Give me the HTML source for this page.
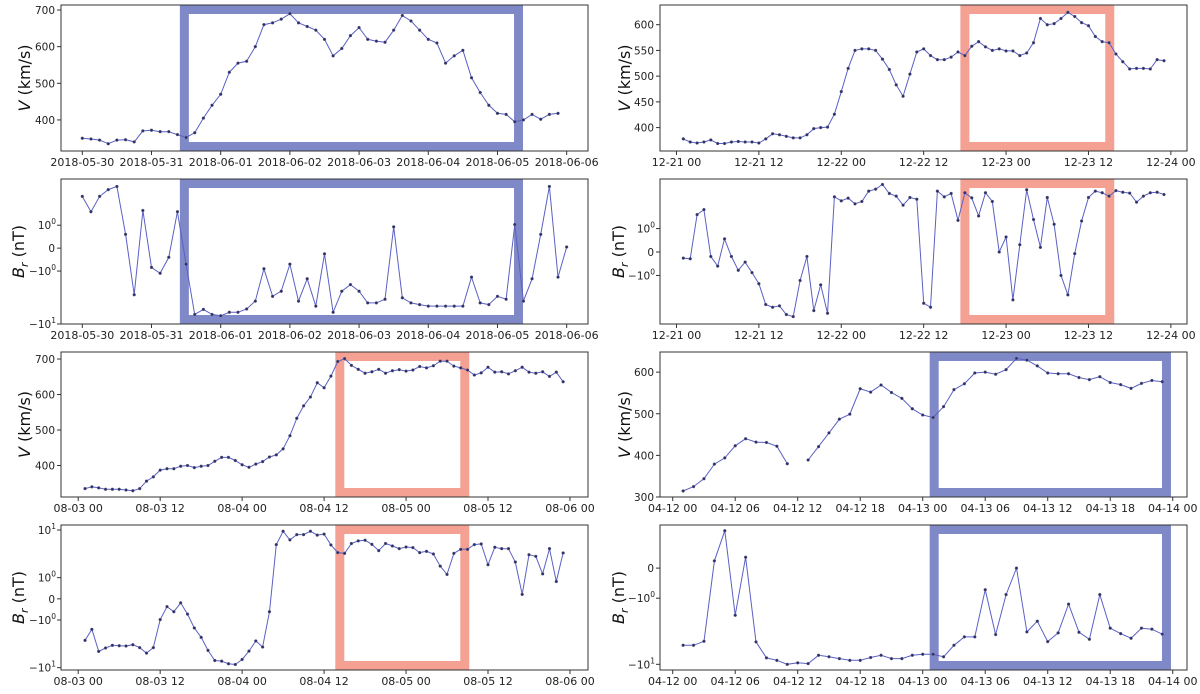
<!DOCTYPE html>
<html><head><meta charset="utf-8"><style>
html,body{margin:0;padding:0;background:#fff;}
svg{display:block;font-family:"DejaVu Sans","Liberation Sans",sans-serif;}
</style></head><body>
<svg id="fig" width="1200" height="694" viewBox="0 0 1200 694" xmlns="http://www.w3.org/2000/svg"></svg>
<script>
// ---- data ----
const v1Values=[350,348,345,335,345,346,340,370, 372,368,368,360,352,365,405,440, 470,530,555,560,600,660,665,675, 690,665,655,645,620,575,595,630, 652,620,615,612,645,685,670,645, 620,610,555,575,590,515,475,440, 418,415,395,400,415,402,415,418];
const br1Values=[3.5,1.8,3.5,4.7,5.4,0.6,-2.8,1.9, -0.84,-1.1,-0.4,1.8,-0.7,-6.6,-5.3,-6.6, -7,-6,-6,-5.2,-3.7,-0.9,-3,-2.4, -0.7,-3.7,-1.4,-4.6,-0.25,-6,-2.4,-1.8, -2.4,-4,-4,-3.4,0.93,-3.2,-4,-4.3, -4.6,-4.6,-4.6,-4.6,-4.6,-1.3,-4,-4.3, -3,-3.4,1.03,-3.7,-1.4,0.6,5.4,-1.3,0.05];
const v3Values=[378,372,370,372,376,369,369,372,373,372,372,370,378,388,386,383,380,380,386,398,400,401,426, 470,515,550,553,553,550,533,513,483,461,504,547,553, 540,532,532,537,547,540,558,567,557,550,553,549, 549,540,545,565,612,600,602,612,624,616,604,598, 577,567,565,543,528,514,515,515,514,532,530];
const br3Values=[-0.26,-0.29,1.81,2.24,-0.19,-0.6,0.56,-0.19,-0.78,-0.43,-0.88,-1.42,-3.44,-3.85,-3.64,-5.26,-5.73,-1.24,-0.19,-4.44,-1.49,-4.98,3.85,3.25,3.64,2.86,3.16,4.9,5.33,6.51,4.44,3.96,2.7,3.74,3.48,-3.25,-3.85,4.9,3.85,4.44,1.42,4.57,3.69,1.71,4.57,3.16,0,0.64,-2.82,0.31,5.19,1.47,0.2,3.74,1.2,-1.0,-2.28,-0.07,1.38,3.74,4.9,4.57,3.96,5.0,4.68,4.5,3.07,3.96,4.57,4.68,4.24];
const v5Values=[335,340,337,333,333,333,331,329,335,356,368,387,391,391,398,400,394,398,400,412,423,423,414,402,395,404,411,424,430,447,484,533,568,593,633,619,652,693,701,682,671,660,664,671,660,667,670,666,669,679,675,681,694,694,680,675,669,655,661,677,663,664,658,667,677,663,660,664,651,663,636];
const br5Values=[-2.67,-1.57,-4.56,-3.87,-3.4,-3.46,-3.52,-3.3,-3.8,-4.94,-3.8,-0.98,-0.37,-0.61,-0.19,-0.72,-1.47,-2.31,-4.34,-7.06,-7.3,-8.3,-8.57,-6.73,-4.49,-2.75,-3.69,-0.61,4.94,9.4,6.2,8.0,8.0,9.4,7.8,8.2,4.86,3.35,3.24,5.2,5.9,6.1,5.0,3.69,5.2,4.63,4.06,4.4,4.27,3.35,3.57,3.14,1.75,1.17,3.24,3.93,3.93,4.94,5.1,1.87,4.34,4.06,4.06,2.13,0.21,3.03,2.8,1.2,4.06,0.82,3.3];
const v7Values=[314.5,325,344,379,394,423,440,432,431,422,380,null,389,421,454,487,499,560,552,569,551,537,512,497,491,517,558,572,598,600,595,606,633,629,615,598,596,596,587,582,589,575,570,561,573,580,577];
const br7Values=[-5.15,-5.15,-4.48,0.24,1.29,-1.81,0.36,-4.58,-8.0,-8.7,-10.0,-9.5,-9.75,-7.3,-7.7,-8.2,-8.7,-8.7,-7.9,-7.3,-8.2,-8.2,-7.3,-7.05,-7.05,-7.7,-5.15,-3.85,-3.85,-0.72,-3.55,-0.88,0,-3.23,-2.23,-4.53,-3.35,-1.23,-3.27,-4.18,-0.88,-2.84,-3.43,-4.03,-2.84,-2.94,-3.5];
const xTicks1=["2018-05-30","2018-05-31","2018-06-01","2018-06-02","2018-06-03","2018-06-04","2018-06-05","2018-06-06"];
const xTicks3=["12-21 00","12-21 12","12-22 00","12-22 12","12-23 00","12-23 12","12-24 00"];
const xTicks5=["08-03 00","08-03 12","08-04 00","08-04 12","08-05 00","08-05 12","08-06 00"];
const xTicks7=["04-12 00","04-12 06","04-12 12","04-12 18","04-13 00","04-13 06","04-13 12","04-13 18","04-14 00"];
const vTicks1=[400,500,600,700];
const vTicks3=[400,450,500,550,600];
const vTicks5=[400,500,600,700];
const vTicks7=[300,400,500,600];
const brTicks2=[1,0,-1,-10];
const brTicks4=[1,0,-1];
const brTicks6=[10,1,0,-1,-10];
const brTicks8=[0,-1,-10];
const box1=[35.4,151.3];
const box3=[42.0,63.1];
const box5=[38.3,56.6];
const box7=[25.1,47.4];

const NS="http://www.w3.org/2000/svg";
const svg=document.getElementById('fig');
function mk(tag,attrs,parent){const e=document.createElementNS(NS,tag);for(const k in attrs)e.setAttribute(k,attrs[k]);(parent||svg).appendChild(e);return e;}

function symT(v,C){const a=Math.abs(v);return a<=1? v*C : Math.sign(v)*(C+Math.log10(a));}
function symLabel(v){ if(v===0) return ['0',''];const s=v<0?'\u2212':'';return [s+'10', Math.abs(v)>=10?'1':'0'];}

function panel(o){
  const g=mk('g',{});
  
  
  const X=t=>o.x0+(t-o.xd[0])/(o.xd[1]-o.xd[0])*(o.x1-o.x0);
  const Y=v=>{const u=o.sym?symT(v,o.C):v;return o.y1-(u-o.yd[0])/(o.yd[1]-o.yd[0])*(o.y1-o.y0);};
  if(o.box){
    const bx=mk('rect',{x:X(o.box[0]),y:o.y0+4.5,width:X(o.box[1])-X(o.box[0]),height:o.y1-o.y0-9,fill:'none',stroke:o.boxColor,'stroke-width':9},g);
    
    
  }
  let d='';let pen=false;
  o.values.forEach((v,i)=>{ if(v===null){pen=false;return;} const t=o.t0+i*o.dt; d+=(pen?'L':'M')+X(t).toFixed(1)+','+Y(v).toFixed(1); pen=true;});
  const ln=mk('path',{d:d,fill:'none',stroke:'#5a60c4','stroke-width':1},g);
  
  
  o.values.forEach((v,i)=>{ if(v===null)return; const t=o.t0+i*o.dt;
    const c=mk('circle',{cx:X(t),cy:Y(v),r:1.5,fill:'#2b2d6e',stroke:'#888','stroke-width':0.3},g);
    
    
  });
  const fr=mk('rect',{x:o.x0,y:o.y0,width:o.x1-o.x0,height:o.y1-o.y0,fill:'none',stroke:'#333','stroke-width':1},g);
  
  
  o.xt.forEach((lab,i)=>{const t=i*o.xstep;const x=X(t);
    mk('line',{x1:x,x2:x,y1:o.y1,y2:o.y1+4,stroke:'#333','stroke-width':1},g);
    const tx=mk('text',{x:x,y:o.y1+15,'font-size':11,'text-anchor':'middle',fill:'#222'},g);
    tx.textContent=lab;
    
    
  });
  o.yt.forEach(v=>{const y=Y(v);
    mk('line',{x1:o.x0-4,x2:o.x0,y1:y,y2:y,stroke:'#333','stroke-width':1},g);
    const tx=mk('text',{x:o.x0-6,y:y+4,'font-size':10.5,'text-anchor':'end',fill:'#222'},g);
    
    
    if(o.sym){const [m,e]=symLabel(v);
      if(e===''){tx.textContent=m;}
      else{const s1=mk('tspan',{},tx);s1.textContent=m;const s2=mk('tspan',{dy:-5,'font-size':7.5},tx);s2.textContent=e;tx.setAttribute('x',o.x0-5);}
    } else tx.textContent=v;
  });
  const cy=(o.y0+o.y1)/2;
  const yl=mk('text',{x:o.lx,y:cy,'font-size':16,'text-anchor':'middle',fill:'#111',transform:`rotate(-90 ${o.lx} ${cy})`},g);
  
  
  if(o.sym){const a=mk('tspan',{'font-style':'italic'},yl);a.textContent='B';const b=mk('tspan',{'font-style':'italic','font-size':11,dy:4},yl);b.textContent='r';const c=mk('tspan',{dy:-4},yl);c.textContent=' (nT)';}
  else{const a=mk('tspan',{'font-style':'italic'},yl);a.textContent='V';const c=mk('tspan',{},yl);c.textContent=' (km/s)';}
}
const BLUE='#8089c7', RED='#f4a093';
const L={x0:61,x1:588}, R={x0:660,x1:1187};
const rows=[[5,151],[179,324],[352,497],[525,670]];

panel({name:'panel-2018-speed',...L,lx:30,y0:rows[0][0],y1:rows[0][1],xd:[-7.39,175.4],yd:[315.2,713.7],values:v1Values,t0:0,dt:3,xt:xTicks1,xstep:24,yt:vTicks1,box:box1,boxColor:BLUE});
panel({name:'panel-2018-br',...L,lx:24,y0:rows[1][0],y1:rows[1][1],xd:[-7.39,175.4],yd:[-1.433,1.306],sym:true,C:0.433,values:br1Values,t0:0,dt:3,xt:xTicks1,xstep:24,yt:brTicks2,box:box1,boxColor:BLUE});
panel({name:'panel-dec-speed',...R,lx:630,y0:rows[0][0],y1:rows[0][1],xd:[-2.4,74.35],yd:[354.5,638.3],values:v3Values,t0:1,dt:1,xt:xTicks3,xstep:12,yt:vTicks3,box:box3,boxColor:RED});
panel({name:'panel-dec-br',...R,lx:624,y0:rows[1][0],y1:rows[1][1],xd:[-2.4,74.35],yd:[-1.327,1.346],sym:true,C:0.432,values:br3Values,t0:1,dt:1,xt:xTicks3,xstep:12,yt:brTicks4,box:box3,boxColor:RED});
panel({name:'panel-aug-speed',...L,lx:30,y0:rows[2][0],y1:rows[2][1],xd:[-2.52,74.64],yd:[311.3,719.8],values:v5Values,t0:1,dt:1,xt:xTicks5,xstep:12,yt:vTicks5,box:box5,boxColor:RED});
panel({name:'panel-aug-br',...L,lx:24,y0:rows[3][0],y1:rows[3][1],xd:[-2.52,74.64],yd:[-1.493,1.549],sym:true,C:0.444,values:br5Values,t0:1,dt:1,xt:xTicks5,xstep:12,yt:brTicks6,box:box5,boxColor:RED});
panel({name:'panel-apr-speed',...R,lx:630,y0:rows[2][0],y1:rows[2][1],xd:[-1.22,49.37],yd:[300,648.4],values:v7Values,t0:1,dt:1,xt:xTicks7,xstep:6,yt:vTicks7,box:box7,boxColor:BLUE});
panel({name:'panel-apr-br',...R,lx:624,y0:rows[3][0],y1:rows[3][1],xd:[-1.22,49.37],yd:[-1.541,0.652],sym:true,C:0.455,values:br7Values,t0:1,dt:1,xt:xTicks7,xstep:6,yt:brTicks8,box:box7,boxColor:BLUE});
</script>
</body></html>
